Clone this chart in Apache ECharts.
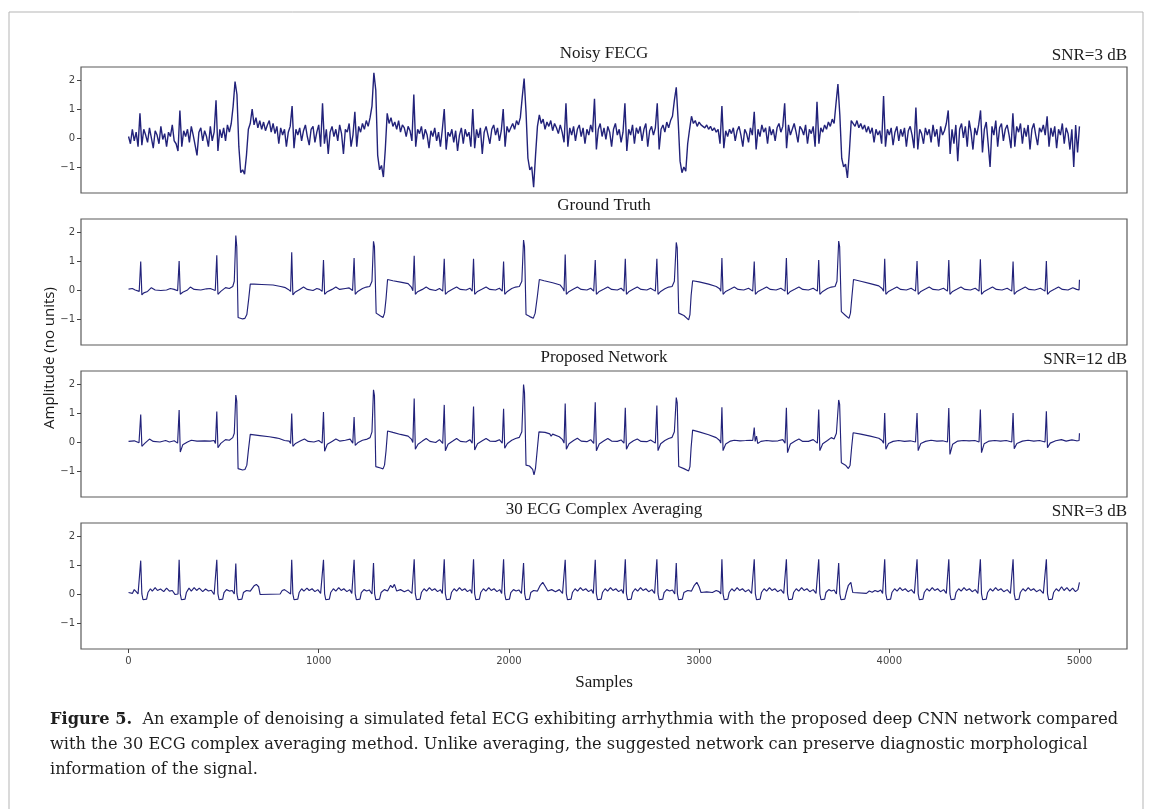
<!DOCTYPE html>
<html>
<head>
<meta charset="utf-8">
<title>Figure 5</title>
<script src="https://cdn.jsdelivr.net/npm/echarts@6/dist/echarts.min.js"></script>
<style>
  html, body { margin: 0; padding: 0; background: #fff; }
  #chart { width: 1152px; height: 809px; }
</style>
</head>
<body>
<div id="chart"></div>
<script>
// 面板标题
const panelTitles = ['Noisy FECG', 'Ground Truth', 'Proposed Network', '30 ECG Complex Averaging']
const snrLabels = ['SNR=3 dB', '', 'SNR=12 dB', 'SNR=3 dB']

// 坐标轴刻度
const xTicks = [0, 1000, 2000, 3000, 4000, 5000]
const yTicks = [-1, 0, 1, 2]

// 含噪信号，每 10 个采样点一个值
const noisyStep = 10
const noisyVals = [
  0.05, -0.2, 0.3, -0.1, 0.2, -0.3, 0.85, -0.25, 0.3, 0.1,
  -0.15, 0.35, 0.0, -0.35, 0.25, 0.1, -0.2, 0.4, -0.05, 0.15,
  -0.3, 0.2, 0.05, 0.45, -0.1, -0.2, -0.45, 0.95, -0.3, 0.25,
  0.05, 0.3, -0.15, 0.4, 0.1, -0.25, -0.6, 0.2, 0.35, -0.1,
  0.25, 0.05, -0.3, 0.4, -0.1, 0.2, 1.3, -0.45, 0.3, 0.0,
  0.35, -0.1, 0.45, 0.2, 0.5, 1.1, 1.95, 1.5, -0.3, -1.2,
  -1.1, -1.25, -0.6, 0.3, 0.5, 1.0, 0.45, 0.7, 0.35, 0.6,
  0.3, 0.55, 0.25, 0.45, 0.6, 0.2, 0.5, 0.15, 0.4, -0.2,
  0.35, 0.1, 0.3, -0.3, 0.2, 0.4, 1.1, -0.35, 0.3, 0.1,
  0.35, -0.1, 0.25, 0.45, 0.05, -0.25, 0.3, 0.4, -0.15, 0.2,
  0.45, -0.3, 1.2, -0.2, 0.3, -0.55, 0.2, 0.4, 0.05, 0.3,
  -0.1, 0.45, 0.15, -0.55, 0.3, 0.2, 0.5, -0.3, 0.1, 0.9,
  -0.3, 0.4, 0.2, 0.5, 0.3, 0.6, 0.4, 0.7, 1.1, 2.25,
  1.65, -0.6, -1.1, -0.95, -1.35, -0.4, 0.85, 0.5, 0.7, 0.4,
  0.55, 0.3, 0.6, 0.2, 0.45, 0.35, 0.05, 0.4, 0.25, -0.1,
  1.5, -0.3, 0.3, 0.15, 0.4, -0.05, 0.3, 0.1, -0.35, 0.25,
  0.05, 0.35, -0.1, 0.2, -0.3, 0.3, 1.0, -0.4, 0.2, 0.05,
  0.3, -0.15, 0.25, -0.45, 0.1, 0.35, -0.2, 0.3, 0.05, 0.2,
  -0.3, 1.0, -0.35, 0.3, 0.0, 0.35, -0.55, 0.2, 0.4, 0.1,
  -0.2, 0.3, 0.45, 0.1, 0.35, -0.1, 0.25, 1.0, -0.3, 0.4,
  0.2, 0.35, 0.5, 0.3, 0.6, 0.45, 0.7, 1.4, 2.05, 0.9,
  -0.7, -1.1, -1.0, -1.7, -0.6, 0.4, 0.8, 0.5, 0.65, 0.3,
  0.55, 0.4, 0.6, 0.25, 0.5, 0.35, 0.15, 0.45, 0.2, -0.15,
  1.2, -0.3, 0.35, 0.1, 0.4, -0.1, 0.3, 0.45, 0.05, 0.35,
  -0.2, 0.3, 0.1, 0.45, 0.2, 1.35, -0.4, 0.3, 0.5, 0.05,
  0.35, -0.05, 0.4, 0.2, -0.3, 0.3, 0.5, 0.1, 0.3, -0.15,
  0.2, 1.2, -0.45, 0.3, 0.1, 0.45, -0.2, 0.35, 0.15, 0.4,
  -0.1, 0.3, 0.5, -0.3, 0.25, 0.4, 0.1, 0.35, 1.2, -0.4,
  0.3, 0.45, 0.2, 0.55, 0.35, 0.6, 0.75, 1.3, 1.75, 0.6,
  -0.8, -1.2, -1.0, -1.15, -0.2, 0.3, 0.75, 0.5, 0.6, 0.4,
  0.55, 0.45, 0.5, 0.35, 0.45, 0.3, 0.4, 0.25, 0.35, 0.2,
  0.3, -0.2, 1.1, -0.35, 0.25, 0.05, 0.3, 0.15, 0.35, -0.1,
  0.25, 0.4, 0.1, -0.3, 0.3, 0.15, -0.15, 0.35, 0.1, 0.9,
  -0.4, 0.3, 0.05, 0.45, 0.2, 0.35, -0.2, 0.4, 0.1, 0.3,
  -0.1, 0.35, 0.5, 0.2, 0.4, 1.2, -0.35, 0.45, 0.1, 0.3,
  0.5, 0.2, -0.15, 0.4, 0.3, 0.1, 0.45, -0.2, 0.3, 0.15,
  0.4, -0.3, 1.25, -0.2, 0.35, 0.2, 0.45, 0.3, 0.55, 0.4,
  0.65, 0.5, 1.2, 1.86, 0.8, -0.7, -1.0, -0.9, -1.38, -0.5,
  0.6, 0.55, 0.4, 0.6, 0.35, 0.5, 0.3, 0.45, 0.2, 0.4,
  0.15, 0.35, -0.15, 0.3, 0.1, 0.25, -0.2, 1.45, -0.3, 0.3,
  0.1, 0.35, -0.25, 0.2, 0.4, -0.1, 0.3, 0.05, 0.35, -0.3,
  0.25, 0.4, 0.1, -0.35, 1.05, -0.4, 0.3, 0.15, -0.2, 0.35,
  0.1, 0.3, -0.15, 0.45, 0.05, 0.3, -0.3, 0.4, 0.1, 0.25,
  0.5, 0.95, -0.55, 0.3, -0.2, 0.45, -0.8, 0.3, 0.5, 0.0,
  0.4, -0.3, 0.6, 0.2, -0.4, 0.35, 0.1, 0.45, 0.95, -0.5,
  0.3, 0.55, -0.2, -1.0, 0.4, 0.1, 0.6, -0.3, 0.35, 0.5,
  -0.1, 0.3, 0.45, 0.1, -0.35, 0.85, -0.3, 0.4, 0.2, 0.5,
  -0.2, 0.35, 0.05, 0.45, -0.4, 0.3, 0.5, 0.1, -0.25, 0.35,
  0.2, 0.45, 0.1, 0.75, -0.3, 0.35, 0.05, 0.4, -0.35, 0.3,
  0.1, 0.5, -0.2, 0.35, 0.15, -0.4, 0.3, -1.0, 0.45, -0.5,
  0.4
]

// 真实信号 [采样点, 幅值]
const truthPts = [
  [0, 0.03], [20, 0.05], [35, 0.0], [56, -0.05], [64, 0.98], [70, -0.17], [80, -0.1], [100, -0.05], [120, 0.08], [140, 0.0],
  [170, -0.02], [200, 0.0], [220, 0.05], [240, 0.02], [258, -0.03], [266, 1.0], [272, -0.15], [285, -0.08], [310, 0.0], [325, 0.1],
  [345, 0.02], [380, 0.0], [410, 0.04], [430, 0.05], [456, -0.02], [464, 1.2], [470, -0.15], [485, -0.05], [510, 0.08], [530, 0.05],
  [548, 0.12], [556, 0.3], [564, 1.88], [569, 1.5], [576, -0.95], [600, -1.0], [612, -0.98], [622, -0.85], [632, -0.3], [640, 0.2],
  [660, 0.2], [700, 0.19], [760, 0.17], [800, 0.12], [825, 0.08], [840, 0.02], [852, -0.05], [858, 1.3], [864, -0.17], [875, -0.08],
  [900, 0.02], [920, 0.1], [940, 0.02], [970, -0.02], [990, 0.05], [1005, 0.02], [1018, -0.05], [1025, 1.03], [1031, -0.15], [1045, -0.06],
  [1070, 0.02], [1090, 0.1], [1110, 0.02], [1140, 0.05], [1160, 0.07], [1178, -0.02], [1186, 1.1], [1192, -0.15], [1205, -0.05], [1230, 0.05],
  [1250, 0.1], [1268, 0.12], [1280, 0.3], [1288, 1.68], [1293, 1.5], [1302, -0.8], [1325, -0.9], [1338, -0.95], [1346, -0.8], [1354, -0.3],
  [1362, 0.36], [1390, 0.32], [1430, 0.27], [1470, 0.22], [1487, 0.1], [1495, -0.03], [1502, 1.18], [1508, -0.15], [1520, -0.06], [1545, 0.02],
  [1565, 0.1], [1585, 0.02], [1615, -0.02], [1635, 0.05], [1652, -0.04], [1660, 1.08], [1666, -0.15], [1680, -0.06], [1705, 0.03], [1725, 0.1],
  [1745, 0.02], [1775, 0.0], [1795, 0.06], [1807, -0.04], [1814, 1.08], [1820, -0.15], [1835, -0.05], [1860, 0.03], [1880, 0.1], [1900, 0.02],
  [1930, 0.0], [1950, 0.06], [1965, -0.04], [1972, 0.98], [1978, -0.15], [1992, -0.05], [2015, 0.05], [2035, 0.1], [2055, 0.12], [2068, 0.3],
  [2077, 1.72], [2082, 1.5], [2090, -0.85], [2110, -0.92], [2128, -0.98], [2138, -0.8], [2150, -0.2], [2160, 0.36], [2185, 0.32], [2230, 0.25],
  [2270, 0.17], [2284, 0.05], [2290, -0.04], [2296, 1.22], [2302, -0.15], [2315, -0.06], [2340, 0.03], [2360, 0.1], [2380, 0.02], [2410, 0.0],
  [2430, 0.06], [2446, -0.04], [2454, 1.03], [2460, -0.15], [2475, -0.05], [2500, 0.03], [2520, 0.1], [2540, 0.02], [2570, 0.0], [2590, 0.06],
  [2605, -0.04], [2612, 1.08], [2618, -0.15], [2632, -0.05], [2655, 0.03], [2675, 0.1], [2695, 0.02], [2725, 0.0], [2745, 0.06], [2770, -0.04],
  [2778, 1.08], [2784, -0.15], [2798, -0.05], [2820, 0.04], [2840, 0.1], [2858, 0.12], [2870, 0.3], [2880, 1.64], [2885, 1.45], [2893, -0.8],
  [2920, -0.88], [2945, -1.03], [2952, -0.85], [2958, -0.2], [2966, 0.32], [3000, 0.28], [3050, 0.2], [3090, 0.12], [3108, 0.04], [3114, -0.04],
  [3120, 1.1], [3126, -0.15], [3140, -0.05], [3165, 0.03], [3185, 0.1], [3205, 0.02], [3235, 0.0], [3260, 0.06], [3282, -0.04], [3290, 0.98],
  [3296, -0.15], [3310, -0.05], [3335, 0.03], [3355, 0.1], [3375, 0.02], [3405, 0.0], [3430, 0.06], [3452, -0.04], [3459, 1.1], [3465, -0.15],
  [3480, -0.05], [3505, 0.03], [3525, 0.1], [3545, 0.02], [3575, 0.0], [3600, 0.06], [3622, -0.04], [3629, 1.03], [3635, -0.15], [3650, -0.05],
  [3675, 0.05], [3695, 0.1], [3715, 0.12], [3725, 0.3], [3734, 1.69], [3739, 1.5], [3748, -0.75], [3770, -0.88], [3788, -0.98], [3796, -0.8],
  [3804, -0.2], [3812, 0.36], [3850, 0.3], [3900, 0.22], [3945, 0.14], [3962, 0.05], [3970, -0.04], [3976, 1.08], [3982, -0.15], [3996, -0.05],
  [4020, 0.03], [4040, 0.1], [4060, 0.02], [4090, 0.0], [4115, 0.06], [4138, -0.04], [4146, 1.0], [4152, -0.15], [4166, -0.05], [4190, 0.03],
  [4210, 0.1], [4230, 0.02], [4260, 0.0], [4285, 0.06], [4306, -0.04], [4313, 1.03], [4319, -0.15], [4333, -0.05], [4357, 0.03], [4377, 0.1],
  [4397, 0.02], [4427, 0.0], [4452, 0.06], [4472, -0.04], [4479, 1.06], [4485, -0.15], [4499, -0.05], [4523, 0.03], [4543, 0.1], [4563, 0.02],
  [4593, 0.0], [4620, 0.06], [4644, -0.04], [4651, 0.98], [4657, -0.15], [4671, -0.05], [4695, 0.03], [4715, 0.1], [4735, 0.02], [4765, 0.0],
  [4795, 0.06], [4819, -0.04], [4826, 1.0], [4832, -0.15], [4846, -0.05], [4870, 0.03], [4890, 0.1], [4910, 0.02], [4940, 0.0], [4965, 0.08],
  [4985, 0.02], [4998, 0.0], [5000, 0.35]
]

// 网络输出
const proposedPts = [
  [0, 0.02], [30, 0.04], [55, -0.03], [64, 0.95], [70, -0.15], [85, -0.05], [110, 0.1], [130, 0.02], [165, 0.0], [195, 0.05],
  [215, 0.0], [240, 0.04], [258, -0.04], [266, 1.1], [272, -0.35], [285, -0.1], [310, 0.0], [330, 0.06], [360, 0.03], [400, 0.04],
  [430, 0.03], [450, 0.05], [457, -0.05], [464, 1.05], [470, -0.2], [485, -0.05], [510, 0.08], [530, 0.06], [548, 0.15], [556, 0.3],
  [564, 1.62], [569, 1.4], [576, -0.92], [600, -0.97], [612, -0.95], [622, -0.8], [630, -0.3], [640, 0.26], [690, 0.22], [740, 0.18],
  [775, 0.14], [785, 0.2], [792, 0.12], [820, 0.05], [845, 0.03], [852, -0.05], [858, 0.98], [864, -0.15], [878, -0.05], [905, 0.04],
  [925, 0.1], [945, 0.02], [975, 0.0], [1000, 0.05], [1018, -0.04], [1025, 1.03], [1031, -0.32], [1045, -0.08], [1070, 0.02], [1090, 0.1],
  [1110, 0.03], [1140, 0.06], [1165, 0.1], [1179, -0.04], [1186, 0.86], [1192, -0.12], [1205, -0.03], [1230, 0.06], [1255, 0.1], [1270, 0.15],
  [1280, 0.35], [1288, 1.8], [1293, 1.6], [1300, -0.85], [1325, -0.9], [1338, -0.93], [1346, -0.8], [1354, -0.3], [1362, 0.38], [1390, 0.33],
  [1430, 0.26], [1470, 0.2], [1487, 0.1], [1495, -0.02], [1502, 1.5], [1508, -0.25], [1522, -0.08], [1545, 0.03], [1565, 0.12], [1585, 0.02],
  [1615, -0.02], [1635, 0.08], [1652, -0.05], [1660, 1.28], [1666, -0.3], [1680, -0.08], [1705, 0.03], [1725, 0.12], [1745, 0.02], [1775, 0.0],
  [1795, 0.08], [1807, -0.04], [1814, 1.22], [1820, -0.28], [1835, -0.06], [1860, 0.04], [1880, 0.12], [1900, 0.03], [1930, 0.02], [1950, 0.08],
  [1965, -0.04], [1972, 1.15], [1978, -0.22], [1992, -0.05], [2015, 0.06], [2035, 0.12], [2055, 0.16], [2068, 0.35], [2077, 1.98], [2082, 1.7],
  [2090, -0.8], [2108, -0.83], [2125, -0.95], [2132, -1.14], [2140, -0.9], [2150, -0.2], [2158, 0.35], [2190, 0.33], [2215, 0.28], [2222, 0.2],
  [2230, 0.27], [2265, 0.18], [2282, 0.08], [2290, -0.04], [2296, 1.33], [2302, -0.25], [2316, -0.06], [2340, 0.05], [2360, 0.13], [2380, 0.03],
  [2410, 0.01], [2430, 0.08], [2446, -0.05], [2454, 1.37], [2460, -0.3], [2475, -0.07], [2500, 0.04], [2520, 0.12], [2540, 0.03], [2570, 0.02],
  [2590, 0.07], [2605, -0.04], [2612, 1.18], [2618, -0.25], [2632, -0.06], [2655, 0.04], [2675, 0.1], [2695, 0.02], [2725, 0.01], [2745, 0.07],
  [2770, -0.04], [2778, 1.26], [2784, -0.3], [2798, -0.06], [2820, 0.05], [2840, 0.12], [2858, 0.16], [2870, 0.35], [2880, 1.53], [2885, 1.35],
  [2893, -0.85], [2920, -0.92], [2945, -1.0], [2952, -0.85], [2958, -0.2], [2966, 0.41], [3000, 0.35], [3050, 0.25], [3090, 0.15], [3108, 0.05],
  [3114, -0.04], [3120, 1.2], [3126, -0.3], [3140, -0.07], [3165, 0.03], [3185, 0.06], [3215, 0.04], [3245, 0.05], [3270, 0.06], [3282, 0.05],
  [3290, 0.5], [3295, 0.02], [3302, 0.2], [3308, -0.05], [3325, 0.02], [3355, 0.05], [3385, 0.03], [3415, 0.04], [3440, 0.08], [3452, -0.04],
  [3459, 1.18], [3465, -0.37], [3480, -0.07], [3505, 0.03], [3525, 0.1], [3545, 0.02], [3575, 0.02], [3600, 0.08], [3622, -0.04], [3629, 1.12],
  [3635, -0.3], [3650, -0.06], [3675, 0.05], [3695, 0.15], [3710, 0.1], [3722, 0.3], [3734, 1.45], [3739, 1.3], [3748, -0.72], [3770, -0.8],
  [3785, -0.92], [3794, -0.8], [3802, -0.2], [3810, 0.32], [3850, 0.27], [3900, 0.2], [3945, 0.13], [3962, 0.05], [3970, -0.04], [3976, 1.0],
  [3982, -0.25], [3996, -0.05], [4020, 0.02], [4050, 0.05], [4080, 0.02], [4110, 0.04], [4138, 0.0], [4146, 1.0], [4152, -0.3], [4166, -0.05],
  [4190, 0.02], [4220, 0.06], [4250, 0.03], [4280, 0.04], [4306, 0.0], [4313, 1.17], [4319, -0.43], [4333, -0.08], [4360, 0.03], [4390, 0.05],
  [4420, 0.04], [4450, 0.05], [4472, 0.0], [4479, 1.12], [4485, -0.37], [4499, -0.06], [4525, 0.03], [4555, 0.05], [4585, 0.03], [4615, 0.05],
  [4644, 0.0], [4651, 1.0], [4657, -0.23], [4671, -0.05], [4700, 0.03], [4730, 0.06], [4760, 0.03], [4790, 0.05], [4819, 0.0], [4826, 1.06],
  [4832, -0.2], [4846, -0.04], [4875, 0.04], [4905, 0.08], [4930, 0.03], [4960, 0.07], [4985, 0.04], [4998, 0.05], [5000, 0.3]
]

// 30 个 ECG 复合波平均
const averagingPts = [
  [0, 0.05], [10, 0.1], [20, 0.02], [30, 0.15], [40, 0.08], [50, 0.0], [58, 0.02], [64, 1.15], [70, 0.0], [76, -0.2],
  [95, -0.18], [102, 0.05], [115, 0.18], [125, 0.1], [140, 0.22], [152, 0.12], [168, 0.17], [185, 0.08], [200, 0.2], [215, 0.1],
  [230, 0.12], [245, -0.02], [260, 0.0], [266, 1.18], [272, 0.0], [278, -0.2], [297, -0.18], [304, 0.05], [318, 0.2], [330, 0.1],
  [345, 0.22], [358, 0.12], [372, 0.2], [390, 0.08], [405, 0.17], [420, 0.1], [435, 0.13], [450, -0.02], [458, 0.0], [464, 1.18],
  [470, 0.0], [476, -0.2], [495, -0.18], [502, 0.05], [515, 0.15], [530, 0.1], [545, 0.12], [556, 0.0], [564, 1.05], [570, 0.0],
  [576, -0.2], [596, -0.18], [604, 0.05], [620, 0.12], [640, 0.1], [660, 0.28], [672, 0.33], [684, 0.25], [692, -0.02], [797, 0.0],
  [808, 0.12], [820, 0.15], [835, 0.08], [845, 0.12], [852, 0.0], [858, 1.18], [864, 0.0], [870, -0.2], [890, -0.18], [897, 0.05],
  [910, 0.18], [922, 0.1], [938, 0.2], [950, 0.12], [965, 0.18], [980, 0.08], [995, 0.15], [1010, 0.02], [1019, 0.0], [1025, 1.18],
  [1031, 0.0], [1037, -0.2], [1056, -0.18], [1063, 0.05], [1077, 0.18], [1090, 0.1], [1105, 0.22], [1118, 0.12], [1132, 0.18], [1148, 0.08],
  [1163, 0.15], [1174, 0.02], [1180, 0.0], [1186, 1.18], [1192, 0.0], [1198, -0.2], [1217, -0.18], [1224, 0.05], [1238, 0.15], [1252, 0.1],
  [1266, 0.14], [1280, 0.0], [1288, 1.07], [1294, 0.0], [1300, -0.2], [1320, -0.18], [1328, 0.05], [1345, 0.15], [1362, 0.1], [1378, 0.3],
  [1388, 0.22], [1398, 0.33], [1410, 0.1], [1430, 0.15], [1450, 0.08], [1470, 0.14], [1490, 0.02], [1496, 0.0], [1502, 1.2], [1508, 0.0],
  [1514, -0.2], [1533, -0.18], [1540, 0.05], [1554, 0.18], [1567, 0.1], [1582, 0.22], [1595, 0.12], [1610, 0.18], [1625, 0.08], [1640, 0.15],
  [1650, 0.02], [1654, 0.0], [1660, 1.2], [1666, 0.0], [1672, -0.2], [1691, -0.18], [1698, 0.05], [1712, 0.18], [1725, 0.1], [1740, 0.22],
  [1753, 0.12], [1768, 0.18], [1782, 0.08], [1797, 0.15], [1805, 0.02], [1808, 0.0], [1814, 1.2], [1820, 0.0], [1826, -0.2], [1845, -0.18],
  [1852, 0.05], [1866, 0.18], [1879, 0.1], [1894, 0.22], [1907, 0.12], [1922, 0.18], [1937, 0.08], [1952, 0.15], [1962, 0.02], [1966, 0.0],
  [1972, 1.2], [1978, 0.0], [1984, -0.2], [2003, -0.18], [2010, 0.05], [2024, 0.15], [2038, 0.1], [2052, 0.14], [2066, 0.02], [2071, 0.0],
  [2077, 1.07], [2083, 0.0], [2089, -0.2], [2108, -0.18], [2115, 0.05], [2130, 0.12], [2150, 0.1], [2165, 0.3], [2178, 0.4], [2192, 0.25],
  [2205, 0.1], [2225, 0.15], [2245, 0.08], [2265, 0.15], [2282, 0.02], [2290, 0.0], [2296, 1.18], [2302, 0.0], [2308, -0.2], [2327, -0.18],
  [2334, 0.05], [2348, 0.18], [2361, 0.1], [2376, 0.22], [2389, 0.12], [2404, 0.18], [2419, 0.08], [2434, 0.15], [2444, 0.02], [2448, 0.0],
  [2454, 1.18], [2460, 0.0], [2466, -0.2], [2485, -0.18], [2492, 0.05], [2506, 0.18], [2519, 0.1], [2534, 0.22], [2547, 0.12], [2562, 0.18],
  [2577, 0.08], [2592, 0.15], [2602, 0.02], [2606, 0.0], [2612, 1.2], [2618, 0.0], [2624, -0.2], [2643, -0.18], [2650, 0.05], [2664, 0.18],
  [2677, 0.1], [2692, 0.22], [2705, 0.12], [2720, 0.18], [2735, 0.08], [2752, 0.15], [2766, 0.02], [2772, 0.0], [2778, 1.2], [2784, 0.0],
  [2790, -0.2], [2809, -0.18], [2816, 0.05], [2830, 0.15], [2845, 0.1], [2860, 0.14], [2872, 0.0], [2880, 1.07], [2886, 0.0], [2892, -0.2],
  [2912, -0.18], [2920, 0.05], [2940, 0.12], [2960, 0.1], [2975, 0.3], [2988, 0.4], [3000, 0.25], [3010, 0.05], [3040, 0.07], [3070, 0.05],
  [3090, 0.12], [3105, 0.08], [3114, 0.0], [3120, 1.2], [3126, 0.0], [3132, -0.2], [3151, -0.18], [3158, 0.05], [3172, 0.18], [3185, 0.1],
  [3200, 0.22], [3213, 0.12], [3228, 0.18], [3243, 0.08], [3260, 0.15], [3276, 0.02], [3284, 0.0], [3290, 1.2], [3296, 0.0], [3302, -0.2],
  [3321, -0.18], [3328, 0.05], [3342, 0.18], [3355, 0.1], [3370, 0.22], [3383, 0.12], [3398, 0.18], [3413, 0.08], [3430, 0.15], [3445, 0.02],
  [3453, 0.0], [3459, 1.2], [3465, 0.0], [3471, -0.2], [3490, -0.18], [3497, 0.05], [3511, 0.18], [3524, 0.1], [3539, 0.22], [3552, 0.12],
  [3567, 0.18], [3582, 0.08], [3600, 0.15], [3615, 0.02], [3623, 0.0], [3629, 1.2], [3635, 0.0], [3641, -0.2], [3660, -0.18], [3667, 0.05],
  [3682, 0.15], [3696, 0.1], [3710, 0.14], [3722, 0.0], [3734, 1.07], [3740, 0.0], [3746, -0.2], [3766, -0.18], [3774, 0.05], [3785, 0.3],
  [3798, 0.4], [3808, 0.05], [3880, 0.02], [3895, 0.1], [3910, 0.06], [3925, 0.12], [3940, 0.08], [3955, 0.14], [3965, 0.02], [3970, 0.0],
  [3976, 1.2], [3982, 0.0], [3988, -0.2], [4007, -0.18], [4014, 0.05], [4028, 0.18], [4041, 0.1], [4056, 0.22], [4069, 0.12], [4084, 0.18],
  [4099, 0.08], [4116, 0.15], [4132, 0.02], [4140, 0.0], [4146, 1.2], [4152, 0.0], [4158, -0.2], [4177, -0.18], [4184, 0.05], [4198, 0.18],
  [4211, 0.1], [4226, 0.22], [4239, 0.12], [4254, 0.18], [4269, 0.08], [4286, 0.15], [4300, 0.02], [4307, 0.0], [4313, 1.2], [4319, 0.0],
  [4325, -0.2], [4344, -0.18], [4351, 0.05], [4365, 0.18], [4378, 0.1], [4393, 0.22], [4406, 0.12], [4421, 0.18], [4436, 0.08], [4452, 0.15],
  [4466, 0.02], [4473, 0.0], [4479, 1.2], [4485, 0.0], [4491, -0.2], [4510, -0.18], [4517, 0.05], [4531, 0.18], [4544, 0.1], [4559, 0.22],
  [4572, 0.12], [4587, 0.18], [4602, 0.08], [4620, 0.15], [4637, 0.02], [4645, 0.0], [4651, 1.2], [4657, 0.0], [4663, -0.2], [4682, -0.18],
  [4689, 0.05], [4703, 0.18], [4716, 0.1], [4731, 0.22], [4744, 0.12], [4759, 0.18], [4774, 0.08], [4792, 0.15], [4810, 0.02], [4820, 0.0],
  [4826, 1.2], [4832, 0.0], [4838, -0.2], [4857, -0.18], [4864, 0.05], [4878, 0.18], [4891, 0.1], [4906, 0.25], [4919, 0.12], [4934, 0.22],
  [4949, 0.1], [4964, 0.2], [4979, 0.08], [4992, 0.15], [4998, 0.1], [5000, 0.4]
]

// 布局
const panelTops = [67, 219, 371, 523]
const panelHeight = 126
const plotLeft = 81
const plotRight = 1127
const lineColor = '#22227a'
const serif = '"Liberation Serif", "Times New Roman", serif'
const captionFont = '"DejaVu Serif", serif'

const noisyPts = noisyVals.map((v, i) => [i * noisyStep, v])
const seriesData = [noisyPts, truthPts, proposedPts, averagingPts]

const chart = echarts.init(document.getElementById('chart'), null, { renderer: 'canvas' })

const grids = panelTops.map(top => ({
  left: plotLeft,
  width: plotRight - plotLeft,
  top: top,
  height: panelHeight,
  show: true,
  borderColor: '#5a5a5a',
  borderWidth: 1.2,
  backgroundColor: '#fff'
}))

const xAxes = panelTops.map((top, i) => ({
  type: 'value',
  gridIndex: i,
  min: -250,
  max: 5250,
  axisLine: { show: false, onZero: false },
  splitLine: { show: false },
  axisTick: {
    show: i === 3,
    customValues: xTicks,
    length: 4,
    lineStyle: { color: '#444', width: 1 }
  },
  axisLabel: {
    show: i === 3,
    customValues: xTicks,
    fontFamily: '"DejaVu Sans", sans-serif',
    fontSize: 10,
    color: '#444',
    margin: 7,
    formatter: v => String(v)
  }
}))

const yAxes = panelTops.map((top, i) => ({
  type: 'value',
  gridIndex: i,
  min: -1.9,
  max: 2.45,
  axisLine: { show: false, onZero: false },
  splitLine: { show: false },
  axisTick: {
    show: true,
    customValues: yTicks,
    length: 4,
    lineStyle: { color: '#444', width: 1 }
  },
  axisLabel: {
    customValues: yTicks,
    fontFamily: '"DejaVu Sans", sans-serif',
    fontSize: 10,
    color: '#444',
    margin: 6,
    formatter: v => (v < 0 ? '\u2212' + Math.abs(v) : String(v))
  }
}))

const series = seriesData.map((data, i) => ({
  type: 'line',
  xAxisIndex: i,
  yAxisIndex: i,
  data: data,
  showSymbol: false,
  symbol: 'none',
  silent: true,
  lineStyle: { color: lineColor, width: i === 0 ? 1.4 : 1.15 },
  animation: false
}))

// 文字和外框
const graphics = [
  {
    type: 'rect',
    shape: { x: 9, y: 12, width: 1134, height: 820 },
    style: { fill: 'none', stroke: '#b5b5b5', lineWidth: 1 },
    silent: true
  }
]
panelTops.forEach((top, i) => {
  graphics.push({
    type: 'text',
    x: (plotLeft + plotRight) / 2,
    y: top - 13,
    style: { text: panelTitles[i], font: '17px ' + serif, fill: '#1a1a1a', textAlign: 'center', textVerticalAlign: 'middle' }
  })
  if (snrLabels[i]) {
    graphics.push({
      type: 'text',
      x: plotRight,
      y: top - 11,
      style: { text: snrLabels[i], font: '17px ' + serif, fill: '#1a1a1a', textAlign: 'right', textVerticalAlign: 'middle' }
    })
  }
})
graphics.push({
  type: 'text',
  x: 50,
  y: 358,
  rotation: Math.PI / 2,
  style: { text: 'Amplitude (no units)', font: '15px "Liberation Sans Narrow", "Open Sans", sans-serif', fill: '#1a1a1a', textAlign: 'center', textVerticalAlign: 'middle' }
})
graphics.push({
  type: 'text',
  x: (plotLeft + plotRight) / 2,
  y: 683,
  style: { text: 'Samples', font: '17px ' + serif, fill: '#1a1a1a', textAlign: 'center', textVerticalAlign: 'middle' }
})

// 图注
const captionLines = [
  '{b|Figure 5.}  An example of denoising a simulated fetal ECG exhibiting arrhythmia with the proposed deep CNN network compared',
  'with the 30 ECG complex averaging method. Unlike averaging, the suggested network can preserve diagnostic morphological',
  'information of the signal.'
]
captionLines.forEach((line, i) => {
  graphics.push({
    type: 'text',
    x: 50,
    y: 720 + i * 25,
    style: {
      text: line,
      font: '16.2px ' + captionFont,
      fill: '#1e1e1e',
      textVerticalAlign: 'middle',
      rich: { b: { fontWeight: 'bold', fontSize: 16.2, fontFamily: captionFont, fill: '#1e1e1e' } }
    }
  })
})

const option = {
  backgroundColor: '#fff',
  animation: false,
  grid: grids,
  xAxis: xAxes,
  yAxis: yAxes,
  series: series,
  graphic: graphics
}

chart.setOption(option)
</script>
</body>
</html>
